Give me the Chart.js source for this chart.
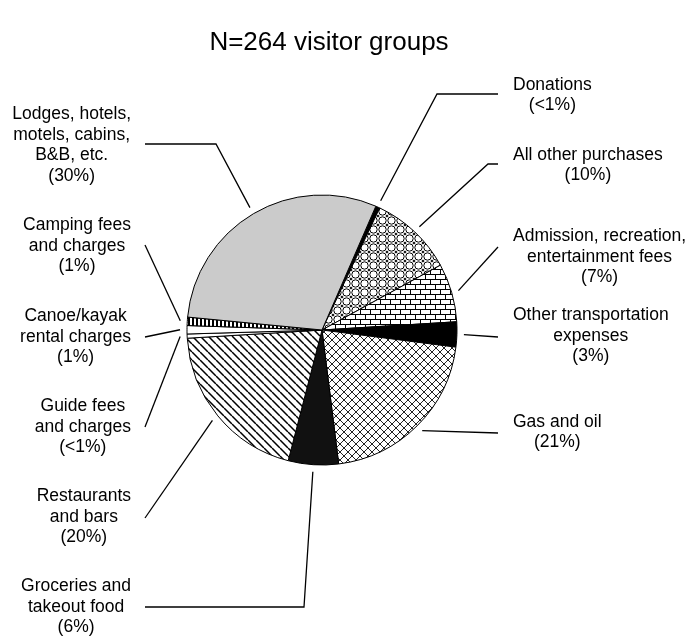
<!DOCTYPE html>
<html>
<head>
<meta charset="utf-8">
<title>Visitor group expenditures</title>
<script src="https://cdn.jsdelivr.net/npm/chart.js@4.4.1/dist/chart.umd.min.js"></script>
<style>
  html, body { margin: 0; padding: 0; background: #fff; }
  #chart { display: block; }
</style>
</head>
<body>
<canvas id="chart" width="691" height="636"></canvas>
<script>
// Share of spending by category, clockwise from the Donations sliver
const chartTitle = "N=264 visitor groups";

const categories = [
  "Donations",
  "All other purchases",
  "Admission, recreation, entertainment fees",
  "Other transportation expenses",
  "Gas and oil",
  "Groceries and takeout food",
  "Restaurants and bars",
  "Guide fees and charges",
  "Canoe/kayak rental charges",
  "Camping fees and charges",
  "Lodges, hotels, motels, cabins, B&B, etc."
];

const shares = [0.5, 10, 7, 3, 21, 6, 20, 0.5, 1, 1, 30];

const shareLabels = ["(<1%)", "(10%)", "(7%)", "(3%)", "(21%)", "(6%)", "(20%)", "(<1%)", "(1%)", "(1%)", "(30%)"];

// how each category name is broken over lines in its callout
const labelLines = [
  ["Donations"],
  ["All other purchases"],
  ["Admission, recreation,", "entertainment fees"],
  ["Other transportation", "expenses"],
  ["Gas and oil"],
  ["Groceries and", "takeout food"],
  ["Restaurants", "and bars"],
  ["Guide fees", "and charges"],
  ["Canoe/kayak", "rental charges"],
  ["Camping fees", "and charges"],
  ["Lodges, hotels,", "motels, cabins,", "B&B, etc."]
];

// callout placement: which side, text block centre, leader end and optional elbow
const callouts = [
  { side: "right", y: 95,  lineY: 94,  elbowX: 437 },
  { side: "right", y: 165, lineY: 164, elbowX: 488 },
  { side: "right", y: 257, lineY: 247 },
  { side: "right", y: 336, lineY: 337 },
  { side: "right", y: 432, lineY: 433 },
  { side: "left",  y: 607, lineY: 607, elbowX: 304 },
  { side: "left",  y: 517, lineY: 518 },
  { side: "left",  y: 427, lineY: 427 },
  { side: "left",  y: 337, lineY: 337 },
  { side: "left",  y: 246, lineY: 245 },
  { side: "left",  y: 145, lineY: 144, elbowX: 216 }
];

const FONT = "'Liberation Sans', Arial, sans-serif";
const LABEL_SIZE = 17.5;
const LINE_H = 20.5;
const RIGHT_TEXT_X = 513, RIGHT_LEADER_X = 498;
const LEFT_TEXT_X = 131, LEFT_LEADER_X = 145;

const canvas = document.getElementById("chart");
const ctx = canvas.getContext("2d");

/* ---------- hatch fills ---------- */
function tile(w, h, paint) {
  const c = document.createElement("canvas");
  c.width = w;
  c.height = h;
  const g = c.getContext("2d");
  g.fillStyle = "#fff";
  g.fillRect(0, 0, w, h);
  g.fillStyle = "#000";
  g.strokeStyle = "#000";
  paint(g, w, h);
  return ctx.createPattern(c, "repeat");
}

const circles = tile(9, 9, (g) => {
  g.lineWidth = 1;
  g.beginPath();
  g.arc(4.5, 4.5, 3.7, 0, Math.PI * 2);
  g.stroke();
  [[0, 0], [9, 0], [0, 9], [9, 9]].forEach(([cx, cy]) => {
    g.beginPath();
    g.moveTo(cx, cy - 1.6);
    g.lineTo(cx + 1.6, cy);
    g.lineTo(cx, cy + 1.6);
    g.lineTo(cx - 1.6, cy);
    g.closePath();
    g.fill();
  });
});

const bricks = tile(10, 10, (g) => {
  g.fillRect(0, 4, 10, 1);
  g.fillRect(0, 9, 10, 1);
  g.fillRect(0, 0, 1, 4);
  g.fillRect(5, 5, 1, 4);
});

const diamonds = tile(8, 8, (g) => {
  g.lineWidth = 1;
  g.strokeStyle = "#222";
  g.beginPath();
  for (const k of [-8, 0, 8]) {
    g.moveTo(k, 0); g.lineTo(k + 8, 8);
    g.moveTo(k + 8, 0); g.lineTo(k, 8);
  }
  g.stroke();
});

const slashes = tile(8, 8, (g) => {
  g.lineWidth = 1.5;
  g.beginPath();
  for (const k of [-8, 0, 8]) {
    g.moveTo(k, 0); g.lineTo(k + 8, 8);
  }
  g.stroke();
});

const bars = tile(4, 4, (g) => {
  g.fillRect(0, 0, 2, 4);
});

const fills = [
  "#000", circles, bricks, "#000", diamonds, "#111",
  slashes, "#fff", "#fff", bars, "#cbcbcb"
];

/* ---------- title, leader lines and callout text ---------- */
const calloutPlugin = {
  id: "callouts",
  afterDraw(chart) {
    const c = chart.ctx;
    c.save();
    c.fillStyle = "#000";
    c.textAlign = "center";
    c.textBaseline = "middle";
    c.font = "26px " + FONT;
    c.fillText(chartTitle, 329, 43);

    const arcs = chart.getDatasetMeta(0).data;
    c.font = LABEL_SIZE + "px " + FONT;
    c.strokeStyle = "#000";
    c.lineWidth = 1.3;

    arcs.forEach((arc, i) => {
      const { x, y, startAngle, endAngle, outerRadius } =
        arc.getProps(["x", "y", "startAngle", "endAngle", "outerRadius"], true);
      const mid = (startAngle + endAngle) / 2;
      const px = x + Math.cos(mid) * (outerRadius + 7);
      const py = y + Math.sin(mid) * (outerRadius + 7);
      const co = callouts[i];
      const right = co.side === "right";

      c.beginPath();
      c.moveTo(right ? RIGHT_LEADER_X : LEFT_LEADER_X, co.lineY);
      if (co.elbowX !== undefined) c.lineTo(co.elbowX, co.lineY);
      c.lineTo(px, py);
      c.stroke();

      const lines = labelLines[i].concat(shareLabels[i]);
      const w = Math.max(...lines.map((s) => c.measureText(s).width));
      const cx = right ? RIGHT_TEXT_X + w / 2 : LEFT_TEXT_X - w / 2;
      const top = co.y - ((lines.length - 1) * LINE_H) / 2;
      lines.forEach((s, j) => c.fillText(s, cx, top + j * LINE_H));
    });
    c.restore();
  }
};

new Chart(ctx, {
  type: "pie",
  data: {
    labels: categories,
    datasets: [{
      data: shares,
      backgroundColor: fills,
      borderColor: "#000",
      borderWidth: 1,
      hoverOffset: 0,
      offset: 0
    }]
  },
  options: {
    responsive: false,
    animation: false,
    devicePixelRatio: 1,
    events: [],
    rotation: 23.5,
    radius: 135,
    layout: { padding: { left: 187, right: 234, top: 195, bottom: 171 } },
    plugins: {
      legend: { display: false },
      tooltip: { enabled: false }
    }
  },
  plugins: [calloutPlugin]
});
</script>
</body>
</html>
